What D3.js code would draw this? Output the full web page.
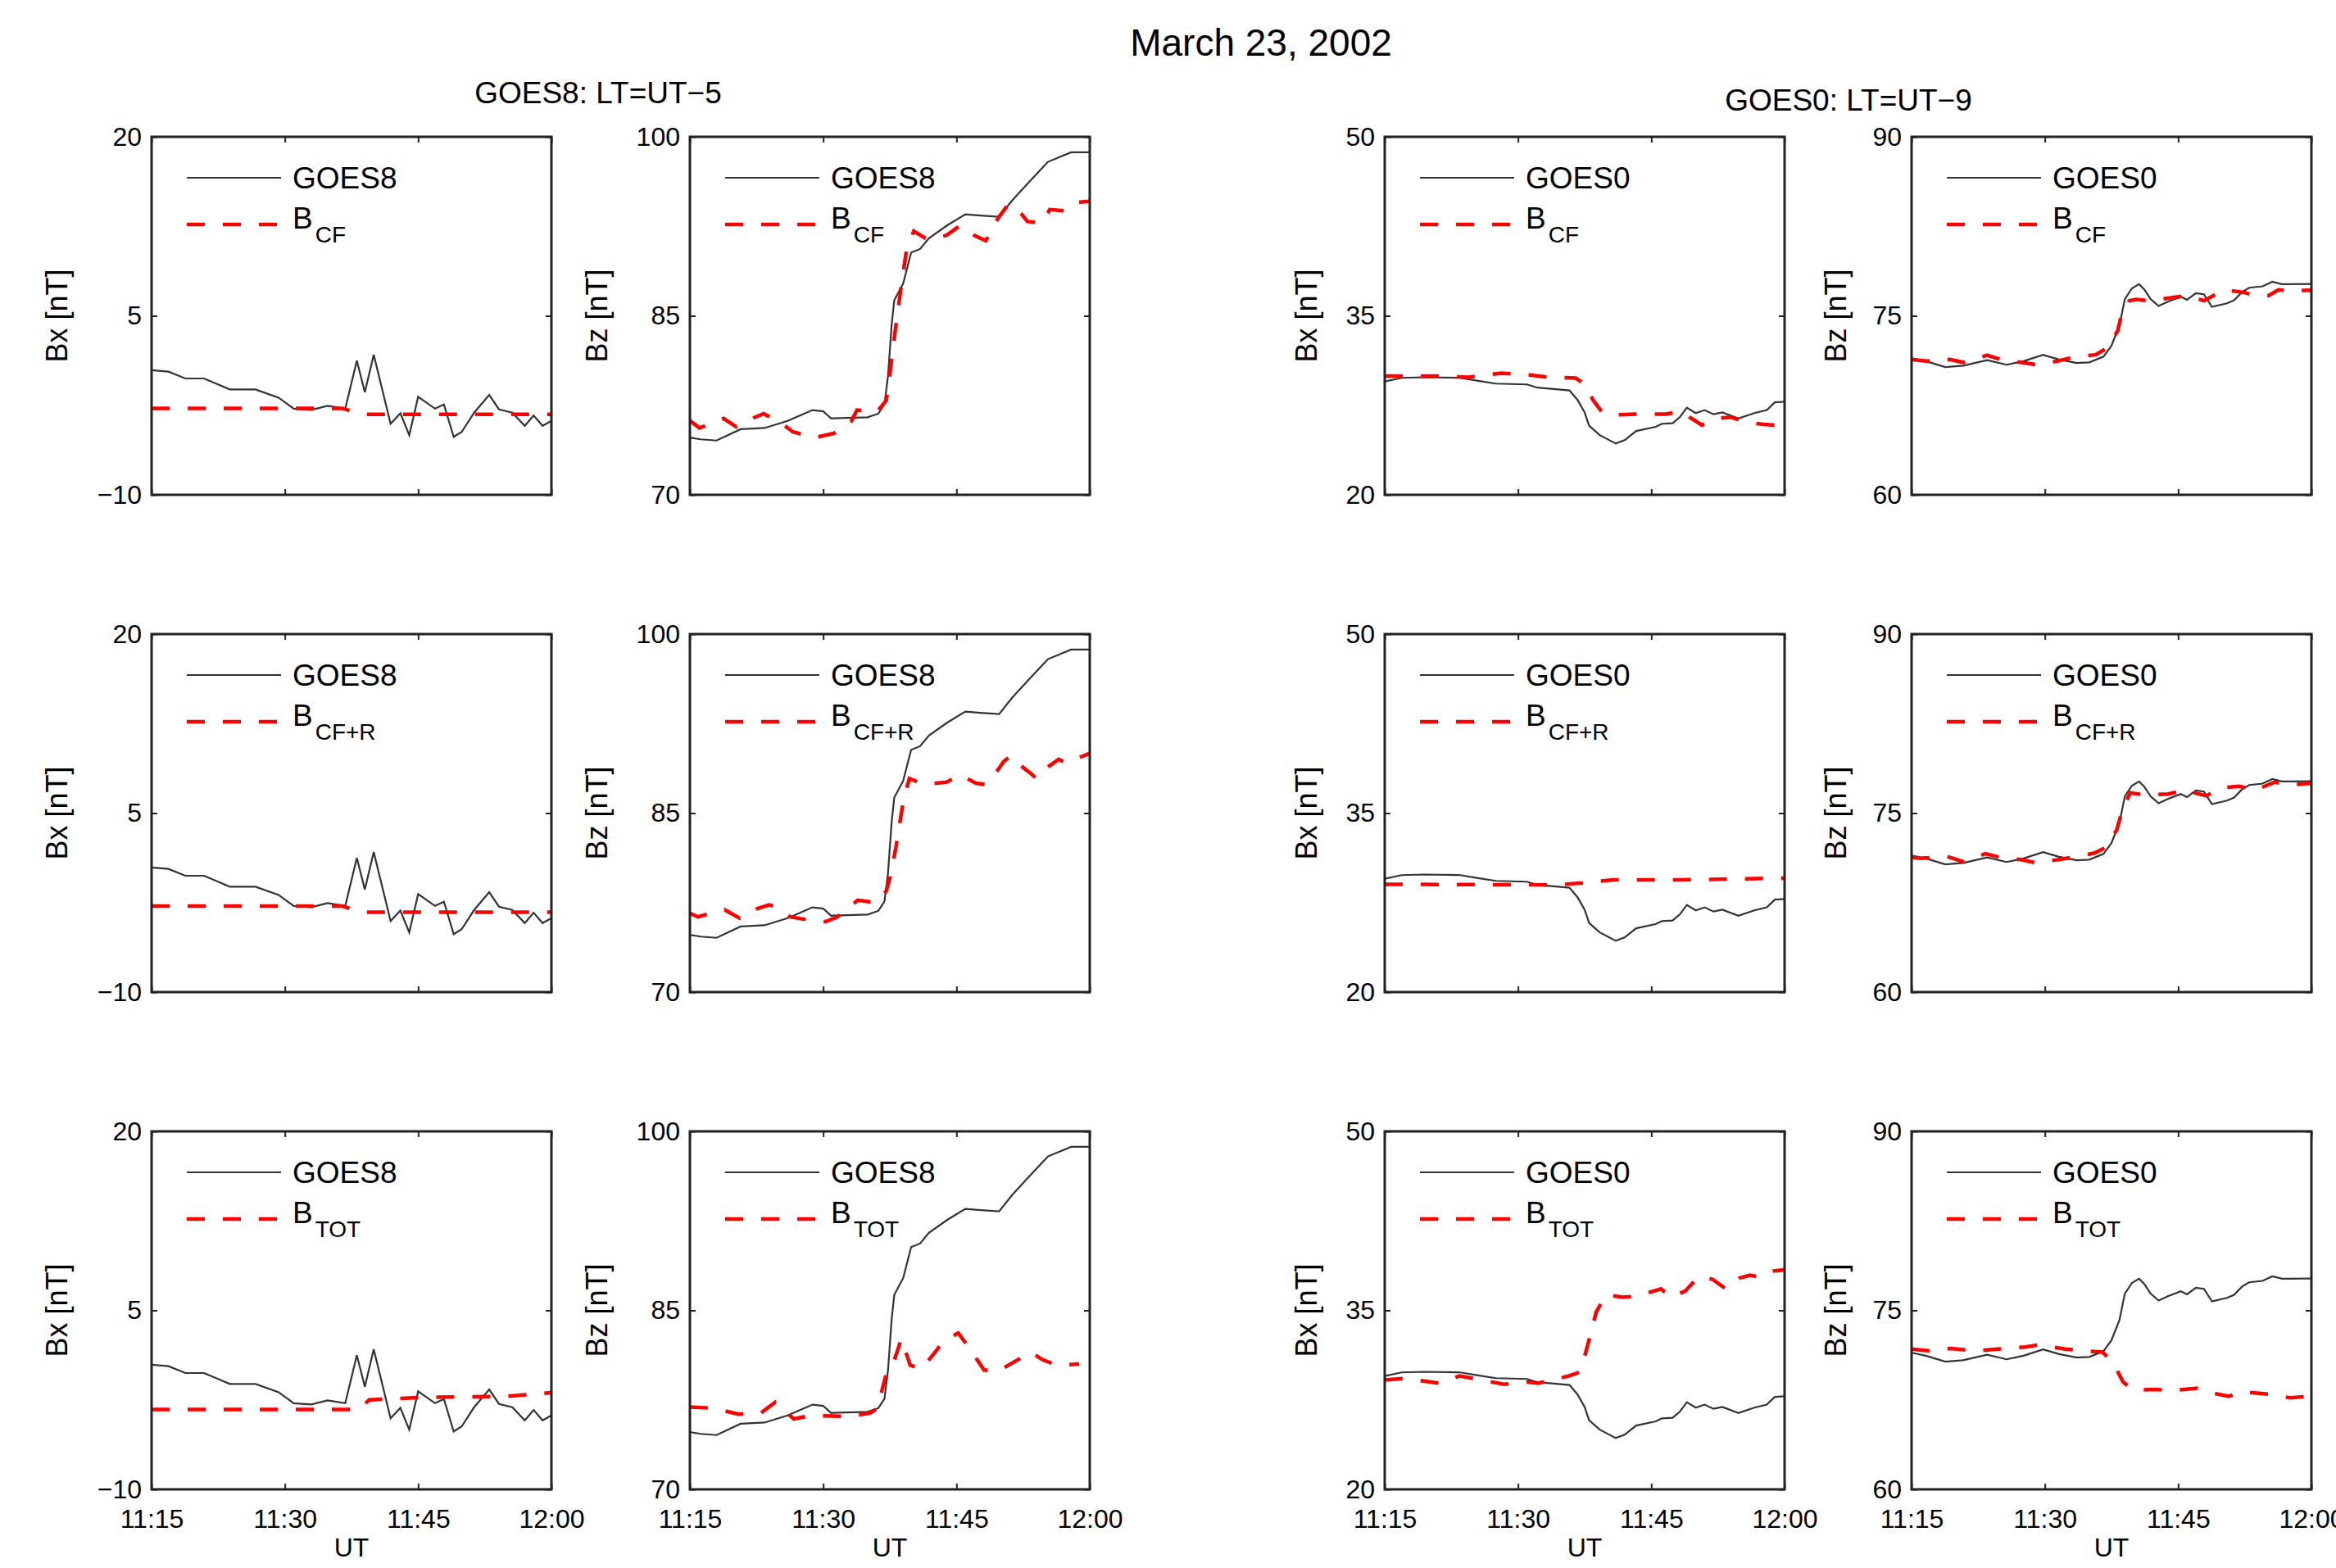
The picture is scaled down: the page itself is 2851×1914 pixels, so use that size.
<!DOCTYPE html>
<html>
<head>
<meta charset="utf-8">
<script src="https://cdn.jsdelivr.net/npm/d3@7"></script>
<style>
  body { margin: 0; background: #fff; }
  text { font-family: "Liberation Sans", Arial, sans-serif; fill: #000; }
</style>
</head>
<body>
<div id="chart"></div>
<script>
// Time is in minutes after 11:15 UT
const timeTicks = [0, 15, 30, 45];
const timeLabels = ["11:15", "11:30", "11:45", "12:00"];

// Y axis ranges and ticks for each column
const bx8Ticks = [-10, 5, 20];
const bz8Ticks = [70, 85, 100];
const bx0Ticks = [20, 35, 50];
const bz0Ticks = [60, 75, 90];

// Observed field, [minute, nT]
const goes8Bx = [[0,0.44],[1.9,0.32],[3.8,-0.25],[5.9,-0.25],[8.8,-1.17],[11.7,-1.17],[14.3,-1.86],[16,-2.78],[18,-2.89],[19.8,-2.55],[21.8,-2.78],[23.1,1.24],[24,-1.4],[25,1.74],[26.9,-4.04],[28,-3.17],[29,-5.0],[30,-1.79],[31.9,-2.78],[32.9,-2.43],[34,-5.14],[34.9,-4.73],[36.3,-3.12],[38,-1.63],[39.1,-2.84],[40.6,-3.12],[42,-4.22],[43,-3.35],[44,-4.22],[45,-3.8]];
const goes8Bz = [[0,74.8],[1.2,74.65],[3,74.55],[5.7,75.5],[8.4,75.6],[11,76.2],[13.8,77.1],[15,77],[15.9,76.4],[20,76.5],[21.2,76.8],[21.9,77.6],[22.3,80],[22.7,84.2],[23,86.3],[24,87.7],[24.9,90.3],[25.9,90.6],[26.9,91.5],[29,92.6],[31,93.5],[32.7,93.4],[34.8,93.3],[36.3,94.7],[38.4,96.4],[40.3,97.9],[42.9,98.7],[45,98.7]];
const goes0Bx = [[0,29.5],[1.9,29.8],[4.4,29.85],[8.5,29.8],[10.5,29.55],[12.5,29.32],[16,29.25],[17.2,28.98],[20.8,28.75],[21.7,27.95],[22.5,26.9],[23,25.8],[24.2,25],[26,24.3],[27,24.58],[28.3,25.35],[30.5,25.7],[31.2,25.95],[32.4,26],[33.2,26.5],[34,27.3],[35,26.85],[36,27.1],[37,26.75],[38,26.9],[39.8,26.4],[41.6,26.85],[43,27.1],[43.9,27.75],[45,27.8]];
const goes0Bz = [[0,71.45],[1.6,71.2],[3.8,70.7],[5.8,70.82],[8.5,71.28],[10.7,70.9],[12.6,71.2],[14.8,71.73],[16.6,71.34],[18.6,71.05],[20,71.1],[21.6,71.58],[22.5,72.5],[23.4,74.2],[24,76.4],[24.8,77.3],[25.6,77.65],[26.2,77.2],[26.9,76.4],[27.8,75.82],[28.9,76.2],[30.3,76.6],[31,76.34],[32,76.9],[32.9,76.8],[33.8,75.75],[35.5,76.05],[36.3,76.3],[37.2,77],[38,77.35],[39.5,77.47],[40.6,77.85],[41.7,77.65],[45,77.67]];

// Model field B_CF
const bcfBx8 = [[0,-2.75],[21.5,-2.75],[23.5,-3.25],[45,-3.25]];
const bcfBz8 = [[0,76.2],[1.1,75.6],[3.8,76.4],[5.2,75.7],[7,76.4],[8.3,76.8],[10.4,75.95],[11.6,75.27],[14.1,74.8],[16.2,75.15],[18.2,76.2],[18.8,77.1],[21.1,77],[22.1,77.9],[22.5,80.1],[23.1,83.7],[23.8,87.6],[24.4,90.6],[25.2,92.1],[26.7,91.4],[28.9,91.75],[30.4,92.55],[32,91.75],[33.3,91.3],[34.7,93.2],[35.8,94.3],[36.8,94],[38,92.9],[39.6,92.8],[40.5,93.9],[42.1,93.8],[43.4,94.5],[45,94.6]];
const bcfBx0 = [[0,29.96],[5.6,29.96],[9.4,29.85],[13.1,30.19],[15.9,30.08],[18.4,29.85],[21.5,29.78],[22.5,29.28],[23.4,28.0],[24.4,26.99],[25.4,26.69],[28.3,26.76],[31.6,26.76],[33.3,26.99],[35.7,25.84],[37.4,26.4],[39,26.5],[40.7,26.07],[42.7,25.9],[45,25.77]];
const bcfBz0 = [[0,71.34],[1.6,71.2],[4.3,71.34],[5.8,71.1],[8.5,71.7],[10,71.34],[12.3,71.1],[14.2,70.88],[16.5,71.22],[18.4,71.57],[20.7,71.73],[22,72.3],[23.2,73.74],[23.7,75.35],[24.5,76.26],[25.3,76.37],[26.8,76.26],[29.5,76.54],[31,76.7],[32.9,76.26],[35.2,77.18],[37.5,76.95],[38.6,76.7],[40.2,76.7],[41.3,77.18],[43,77.1],[45,77.15]];

// Model field B_CF+R
const bcfrBx8 = [[0,-2.8],[21.5,-2.8],[23.5,-3.3],[45,-3.3]];
const bcfrBz8 = [[0,76.6],[0.9,76.3],[1.8,76.5],[3.9,76.9],[5.6,76.2],[7.6,77],[8.9,77.3],[9.5,77.2],[11.3,76.3],[13.3,76.05],[15.3,75.9],[16.6,76.3],[18.9,77.7],[20.9,77.5],[22.1,78.45],[22.6,79.8],[23.2,82.2],[23.8,85],[24.1,86.3],[24.7,87.9],[26.4,87.4],[28.9,87.6],[30.4,88.2],[32.2,87.5],[33.2,87.4],[33.9,87.8],[35.3,89.3],[36.1,89.8],[37.2,89],[38.4,88.3],[39,87.9],[39.8,88.6],[41.5,89.5],[42.4,89.2],[43.3,89.5],[45,90]];
const bcfrBx0 = [[0,29.03],[19.2,28.98],[22.3,29.14],[25.7,29.4],[33.4,29.4],[45,29.55]];
const bcfrBz0 = [[0,71.3],[1,71.2],[4,71.36],[5.9,70.9],[8.3,71.6],[9.9,71.3],[12.3,71.1],[13.9,70.85],[16.6,71.1],[18.2,71.3],[20.6,71.65],[21.8,72.1],[23.1,73.6],[23.7,75.2],[24.6,76.7],[26.4,76.5],[28.9,76.6],[30.7,76.9],[33.2,76.45],[34.7,77.1],[36.9,77.25],[38.6,76.9],[40.9,77.6],[42.4,77.35],[45,77.5]];

// Model field B_TOT
const btotBx8 = [[0,-3.3],[23.3,-3.3],[24.5,-2.5],[30.5,-2.3],[35.5,-2.25],[40,-2.2],[44,-1.96],[45,-1.9]];
const btotBz8 = [[0,76.9],[2.6,76.8],[5.5,76.3],[8,76.4],[9.6,77.3],[11.7,75.9],[13.7,76.2],[17.8,76.1],[20.3,76.4],[21.1,76.8],[22,79.4],[22.9,80.6],[23.8,82.6],[24.8,80.4],[26.1,80.1],[27.7,81.6],[28.5,82.4],[30.2,83.1],[31.4,81.9],[33.1,80],[34.7,79.9],[36.3,80.6],[38.4,81.5],[39.6,80.9],[41.3,80.4],[43.8,80.5]];
const btotBx0 = [[0,29.16],[2.3,29.3],[6.1,28.9],[8.4,29.5],[10,29.3],[13.4,28.8],[16.1,29.0],[17.3,28.9],[20.7,29.5],[21.9,29.8],[22.6,31.4],[23.2,33.1],[23.8,34.85],[24.9,36.3],[26.8,36.1],[28.4,36.2],[31.1,36.8],[32.2,36.1],[33.8,36.6],[35.3,37.8],[36.9,37.6],[38.4,36.8],[39.9,37.7],[41.1,37.95],[42.2,37.8],[43.7,38.3],[45,38.4]];
const btotBz0 = [[0,71.76],[2.1,71.6],[4.4,71.8],[7.4,71.6],[9.7,71.76],[12.8,71.93],[14.3,72.1],[17.3,71.76],[19.6,71.6],[21.5,71.5],[22.7,70.6],[23.8,69.0],[25,68.3],[27.3,68.37],[29.6,68.3],[32.2,68.47],[34.1,68.04],[35.7,67.8],[37.2,68.17],[40.3,67.97],[42.6,67.67],[45,67.8]];

const modelNames = ["CF", "CF+R", "TOT"];

// Layout
const width = 2851, height = 1914;
const colLeft = [185, 842, 1690, 2333];
const colLabelX = [69, 728, 1594, 2240];
const rowTop = [167, 774, 1381];
const panelW = 488, panelH = 437;

const columns = [
    {sat: "GOES8", axis: "Bx [nT]", ticks: bx8Ticks, obs: goes8Bx, models: [bcfBx8, bcfrBx8, btotBx8]},
    {sat: "GOES8", axis: "Bz [nT]", ticks: bz8Ticks, obs: goes8Bz, models: [bcfBz8, bcfrBz8, btotBz8]},
    {sat: "GOES0", axis: "Bx [nT]", ticks: bx0Ticks, obs: goes0Bx, models: [bcfBx0, bcfrBx0, btotBx0]},
    {sat: "GOES0", axis: "Bz [nT]", ticks: bz0Ticks, obs: goes0Bz, models: [bcfBz0, bcfrBz0, btotBz0]}
];

const svg = d3.select("#chart").append("svg")
    .attr("width", width)
    .attr("height", height);

// Titles
svg.append("text").attr("x", 1539).attr("y", 68)
    .attr("text-anchor", "middle").style("font-size", "46px")
    .text("March 23, 2002");
svg.append("text").attr("x", 730).attr("y", 126)
    .attr("text-anchor", "middle").style("font-size", "37px")
    .text("GOES8: LT=UT\u22125");
svg.append("text").attr("x", 2256).attr("y", 135)
    .attr("text-anchor", "middle").style("font-size", "37px")
    .text("GOES0: LT=UT\u22129");

const xScale = d3.scaleLinear().domain([0, 45]).range([0, panelW]);

function drawPanel(row, col) {
    const c = columns[col];
    const yScale = d3.scaleLinear().domain([c.ticks[0], c.ticks[2]]).range([panelH, 0]);
    const g = svg.append("g")
        .attr("transform", `translate(${colLeft[col]}, ${rowTop[row]})`);

    const clipId = `clip-${row}-${col}`;
    g.append("clipPath").attr("id", clipId)
        .append("rect").attr("width", panelW).attr("height", panelH);

    // Axes with inward ticks
    const left = g.append("g")
        .call(d3.axisLeft(yScale).tickValues(c.ticks).tickSize(-7).tickPadding(12)
            .tickFormat(d => d < 0 ? "\u2212" + Math.abs(d) : d));
    const right = g.append("g").attr("transform", `translate(${panelW},0)`)
        .call(d3.axisRight(yScale).tickValues(c.ticks).tickSize(-7).tickFormat(""));
    const top = g.append("g")
        .call(d3.axisTop(xScale).tickValues(timeTicks).tickSize(-7).tickFormat(""));
    const bottom = g.append("g").attr("transform", `translate(0,${panelH})`)
        .call(d3.axisBottom(xScale).tickValues(timeTicks).tickSize(-7).tickPadding(24)
            .tickFormat((d, i) => row === 2 ? timeLabels[i] : ""));
    [left, right, top, bottom].forEach(a => {
        a.select(".domain").remove();
        a.selectAll("line").attr("stroke", "#222").attr("stroke-width", 2);
        a.selectAll("text").style("font-size", "32px").attr("fill", "#000")
            .style("font-family", "'Liberation Sans', Arial, sans-serif");
    });

    // Data lines
    const line = d3.line().x(d => xScale(d[0])).y(d => yScale(d[1]));
    const plot = g.append("g").attr("clip-path", `url(#${clipId})`);
    plot.append("path").datum(c.obs)
        .attr("d", line).attr("fill", "none")
        .attr("stroke", "#333").attr("stroke-width", 2.2);
    plot.append("path").datum(c.models[row])
        .attr("d", line).attr("fill", "none")
        .attr("stroke", "#ff0000").attr("stroke-width", 4.5)
        .attr("stroke-dasharray", "22,22");

    // Frame
    g.append("rect").attr("width", panelW).attr("height", panelH)
        .attr("fill", "none").attr("stroke", "#222").attr("stroke-width", 3);

    // Legend
    g.append("line").attr("x1", 43).attr("x2", 158).attr("y1", 50).attr("y2", 50)
        .attr("stroke", "#333").attr("stroke-width", 2.2);
    g.append("text").attr("x", 172).attr("y", 63).style("font-size", "37px").text(c.sat);
    g.append("line").attr("x1", 43).attr("x2", 158).attr("y1", 107).attr("y2", 107)
        .attr("stroke", "#ff0000").attr("stroke-width", 4.5).attr("stroke-dasharray", "22,22");
    const lab = g.append("text").attr("x", 172).attr("y", 112).style("font-size", "37px");
    lab.append("tspan").text("B");
    lab.append("tspan").attr("dy", 17).attr("dx", 3).style("font-size", "28px").text(modelNames[row]);

    // Y axis label
    svg.append("text")
        .attr("transform", `translate(${colLabelX[col]}, ${rowTop[row] + panelH / 2}) rotate(-90)`)
        .attr("text-anchor", "middle").attr("dy", "0.35em")
        .style("font-size", "36px").text(c.axis);

    // X axis label on the bottom row
    if (row === 2) {
        svg.append("text").attr("x", colLeft[col] + panelW / 2).attr("y", 1900)
            .attr("text-anchor", "middle").style("font-size", "32px").text("UT");
    }
}

for (let r = 0; r < 3; r++) {
    for (let c = 0; c < 4; c++) drawPanel(r, c);
}
</script>
</body>
</html>
